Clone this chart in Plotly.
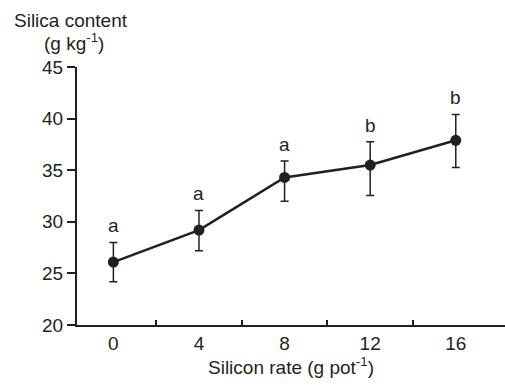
import plotly.graph_objects as go

rates = [0, 4, 8, 12, 16]
silica = [26.1, 29.2, 34.3, 35.5, 37.9]
err_plus = [1.9, 1.9, 1.6, 2.25, 2.5]
err_minus = [1.9, 2.0, 2.3, 2.95, 2.65]
letters = ["a", "a", "a", "b", "b"]
ytick_vals = [20, 25, 30, 35, 40, 45]
minor_x = [2, 6, 10, 14]

INK = "#231f20"
FONT = "Liberation Sans, Arial, sans-serif"
FS = 19

fig = go.Figure()
fig.add_trace(go.Scatter(
    x=rates, y=silica, mode="lines+markers",
    line=dict(color=INK, width=2.5),
    marker=dict(color=INK, size=11),
    error_y=dict(type="data", symmetric=False, array=err_plus, arrayminus=err_minus,
                 color=INK, thickness=1.5, width=4),
    showlegend=False,
))

for x, y, ep, t in zip(rates, silica, err_plus, letters):
    fig.add_annotation(x=x, y=y + ep, text=t, showarrow=False,
                       yanchor="bottom", yshift=4,
                       font=dict(family=FONT, size=FS, color=INK))

fig.add_annotation(xref="paper", yref="paper", x=-0.152, y=1.0, yshift=47,
                   text="Silica content", showarrow=False, xanchor="left", yanchor="middle",
                   font=dict(family=FONT, size=FS, color=INK))
fig.add_annotation(xref="paper", yref="paper", x=-0.082, y=1.0, yshift=25,
                   text="(g kg<sup>-1</sup>)", showarrow=False, xanchor="left", yanchor="middle",
                   font=dict(family=FONT, size=FS, color=INK))

fig.update_layout(
    width=505, height=387,
    margin=dict(l=77, r=0, t=67, b=62),
    paper_bgcolor="white", plot_bgcolor="white",
    font=dict(family=FONT, size=FS, color=INK),
    xaxis=dict(
        range=[-1.7, 18.3], tickvals=rates, ticktext=[str(r) for r in rates],
        ticks="", showgrid=False, zeroline=False,
        showline=True, linecolor=INK, linewidth=2,
        minor=dict(tickvals=minor_x, ticks="inside", ticklen=5, tickwidth=2, tickcolor=INK),
        title=dict(text="Silicon rate (g pot<sup>-1</sup>)", standoff=4,
                   font=dict(family=FONT, size=FS, color=INK)),
    ),
    yaxis=dict(
        range=[20, 45], tickvals=ytick_vals, ticks="outside", ticklen=8, tickwidth=2,
        tickcolor=INK, showgrid=False, zeroline=False,
        showline=True, linecolor=INK, linewidth=2,
    ),
)

fig.write_html("out.html")
